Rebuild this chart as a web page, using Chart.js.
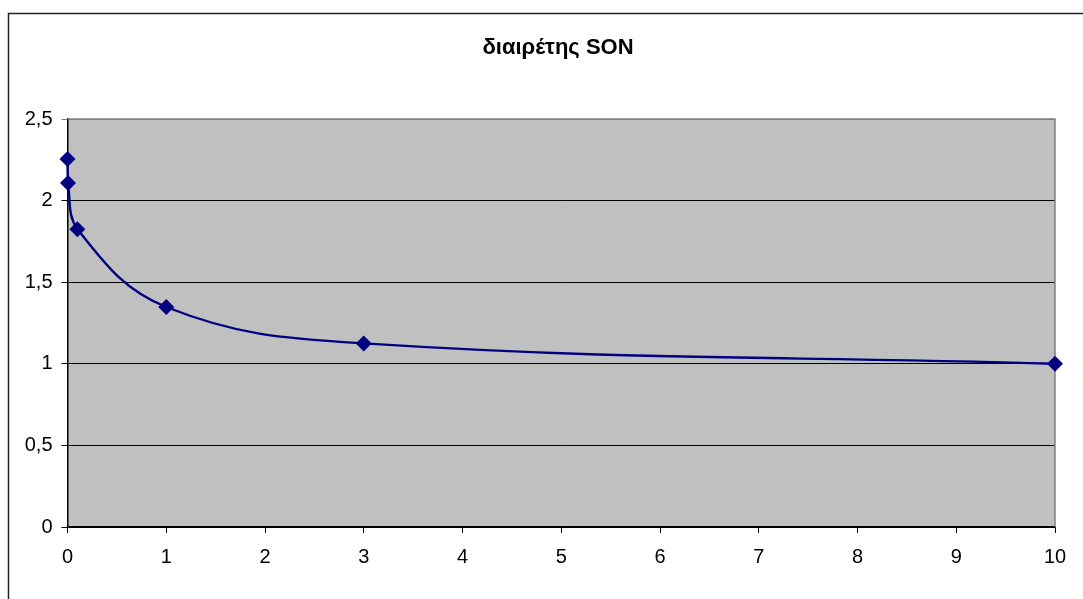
<!DOCTYPE html>
<html>
<head>
<meta charset="utf-8">
<script src="https://cdn.jsdelivr.net/npm/chart.js@4/dist/chart.umd.min.js"></script>
<style>
  html, body { margin: 0; padding: 0; background: #fff; }
  #wrap { width: 1083px; height: 599px; }
</style>
</head>
<body>
<div id="wrap"><canvas id="c" width="1083" height="599"></canvas></div>
<script>
// Divisor values measured at each x
const xValues = [0, 0.005, 0.1, 1, 3, 10];
const yValues = [2.255, 2.108, 1.825, 1.348, 1.125, 1.0];
const chartTitle = 'διαιρέτης SON';
const xTicks = [0, 1, 2, 3, 4, 5, 6, 7, 8, 9, 10];
const yTicks = [0, 0.5, 1, 1.5, 2, 2.5];

const FONT = 'Liberation Sans, Arial, sans-serif';

// Grey plot panel, outer frame and the title
const decor = {
  id: 'decor',
  beforeDraw(chart) {
    const { ctx, chartArea: a } = chart;
    ctx.save();
    ctx.fillStyle = '#fff';
    ctx.fillRect(0, 0, chart.width, chart.height);
    ctx.fillStyle = '#C0C0C0';
    ctx.fillRect(a.left, a.top, a.right - a.left, a.bottom - a.top);
    // outer chart frame
    ctx.strokeStyle = '#222';
    ctx.lineWidth = 1.5;
    ctx.beginPath();
    ctx.moveTo(8.5, chart.height + 2);
    ctx.lineTo(8.5, 13.5);
    ctx.lineTo(chart.width + 2, 13.5);
    ctx.stroke();
    // title
    ctx.fillStyle = '#000';
    ctx.font = 'bold 22px ' + FONT;
    ctx.textAlign = 'center';
    ctx.textBaseline = 'middle';
    ctx.fillText(chartTitle, 558, 48);
    ctx.restore();
  },
  beforeDatasetsDraw(chart) {
    const { ctx, chartArea: a } = chart;
    ctx.save();
    ctx.strokeStyle = '#808080';
    ctx.lineWidth = 1.5;
    ctx.beginPath();
    ctx.moveTo(a.left, a.top);
    ctx.lineTo(a.right, a.top);
    ctx.lineTo(a.right, a.bottom);
    ctx.stroke();
    ctx.restore();
  }
};

const points = xValues.map((x, i) => ({ x, y: yValues[i] }));

new Chart(document.getElementById('c'), {
  type: 'scatter',
  data: {
    datasets: [{
      data: points,
      showLine: true,
      clip: false,
      borderColor: '#000080',
      backgroundColor: '#000080',
      borderWidth: 2.4,
      tension: 0.4,
      pointStyle: 'rectRot',
      pointRadius: 8,
      pointHoverRadius: 8,
      pointBorderWidth: 0
    }]
  },
  options: {
    responsive: false,
    animation: false,
    devicePixelRatio: 1,
    layout: { padding: { top: 119, right: 28, bottom: 0, left: 0 } },
    plugins: { legend: { display: false }, tooltip: { enabled: false }, title: { display: false } },
    scales: {
      x: {
        type: 'linear',
        min: 0, max: 10,
        afterBuildTicks(s) { s.ticks = xTicks.map(v => ({ value: v })); },
        afterFit(s) { s.height = 72; },
        grid: { drawOnChartArea: false, drawTicks: true, tickLength: 6, color: '#000', lineWidth: 1 },
        border: { color: '#000', width: 1.5 },
        ticks: { color: '#000', font: { family: FONT, size: 20 }, padding: 12, maxRotation: 0 }
      },
      y: {
        min: 0, max: 2.5,
        afterBuildTicks(s) { s.ticks = yTicks.map(v => ({ value: v })); },
        afterFit(s) { s.width = 67.5; },
        grid: { color: ctx => (ctx.tick && ctx.tick.value === 2.5 ? '#808080' : '#000'), lineWidth: 1, tickLength: 6 },
        border: { color: '#000', width: 1.5 },
        ticks: {
          color: '#000', font: { family: FONT, size: 20 }, padding: 9,
          callback: v => String(v).replace('.', ',')
        }
      }
    }
  },
  plugins: [decor]
});
</script>
</body>
</html>
